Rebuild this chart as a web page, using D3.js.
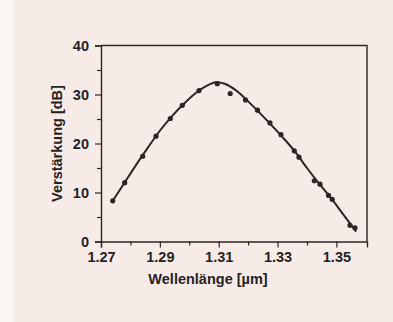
<!DOCTYPE html>
<html>
<head>
<meta charset="utf-8">
<script src="https://cdn.jsdelivr.net/npm/d3@7"></script>
<style>
  html, body { margin: 0; padding: 0; background: #f7ebe8; }
  svg { display: block; }
  text { font-family: "Liberation Sans", Arial, Helvetica, sans-serif; font-weight: bold; fill: #262222; }
</style>
</head>
<body>
<script>
// measured points
const measWavelength = [1.27398, 1.27805, 1.28417, 1.28869, 1.29355, 1.29763, 1.30331, 1.30952, 1.31391, 1.31911, 1.32319,
  1.32743, 1.33117, 1.33569, 1.33729, 1.34249, 1.34443, 1.34732, 1.34857, 1.35462, 1.35632];
const measGain = [8.3, 12.0, 17.4, 21.5, 25.1, 27.8, 30.8, 32.2, 30.2, 28.9, 26.8,
  24.2, 21.8, 18.5, 17.2, 12.4, 11.7, 9.4, 8.6, 3.3, 2.8];

// fitted curve
const fitWavelength = [1.2738, 1.278, 1.282, 1.286, 1.290, 1.294, 1.298, 1.302, 1.306, 1.309, 1.312,
  1.316, 1.320, 1.324, 1.328, 1.332, 1.336, 1.340, 1.344, 1.348, 1.352, 1.3567];
const fitGain = [8.1, 12.0, 15.7, 19.2, 22.6, 25.5, 28.0, 30.2, 31.8, 32.5, 32.2,
  30.8, 28.6, 26.2, 23.7, 21.1, 18.3, 15.0, 11.9, 9.0, 5.8, 2.0];

const xMajor = [1.27, 1.29, 1.31, 1.33, 1.35];
const xMinor = [1.28, 1.30, 1.32, 1.34];
const yMajor = [0, 10, 20, 30, 40];
const yMinor = [5, 15, 25, 35];

const width = 393, height = 322;
const margin = { left: 101, right: 26, top: 45.5, bottom: 80.5 };

const svg = d3.select("body").append("svg")
  .attr("width", width)
  .attr("height", height);

// light strip on the left edge of the scan
svg.append("rect").attr("x", 0).attr("y", 0).attr("width", 14).attr("height", height).attr("fill", "#fbf5f4");

const x = d3.scaleLinear().domain([1.27, 1.3604]).range([margin.left, width - margin.right]);
const y = d3.scaleLinear().domain([0, 40]).range([height - margin.bottom, margin.top]);

const ink = "#2a2626";

// frame (top + right)
svg.append("path")
  .attr("d", `M${x.range()[0]},${y(40)}H${x.range()[1]}V${y(0)}`)
  .attr("fill", "none")
  .attr("stroke", ink)
  .attr("stroke-width", 1.4);

// y axis
const gy = svg.append("g").attr("transform", `translate(${margin.left},0)`)
  .call(d3.axisLeft(y).tickValues(yMajor).tickSize(6).tickPadding(6).tickFormat(d3.format("d")));
svg.append("g").attr("transform", `translate(${margin.left},0)`)
  .call(d3.axisLeft(y).tickValues(yMinor).tickSize(4).tickFormat(""))
  .call(g => g.select(".domain").remove());

// x axis
const gx = svg.append("g").attr("transform", `translate(0,${y(0)})`)
  .call(d3.axisBottom(x).tickValues(xMajor).tickSize(6).tickPadding(4).tickFormat(d3.format(".2f")));
svg.append("g").attr("transform", `translate(0,${y(0)})`)
  .call(d3.axisBottom(x).tickValues(xMinor).tickSize(4).tickFormat(""))
  .call(g => g.select(".domain").remove());

svg.selectAll(".domain").attr("stroke", ink).attr("stroke-width", 1.4);
svg.selectAll(".tick line").attr("stroke", ink).attr("stroke-width", 1.2);
svg.selectAll(".tick text")
  .attr("font-family", "'Liberation Sans', Arial, Helvetica, sans-serif")
  .attr("font-weight", "bold")
  .attr("font-size", 14.5)
  .attr("fill", "#262222");

// axis titles
svg.append("text")
  .attr("x", 208)
  .attr("y", 284)
  .attr("text-anchor", "middle")
  .attr("font-size", 14.5)
  .text("Wellenlänge [µm]");

svg.append("text")
  .attr("transform", `translate(62,${(y(0) + y(40)) / 2}) rotate(-90)`)
  .attr("text-anchor", "middle")
  .attr("font-size", 14.5)
  .text("Verstärkung [dB]");

// fit curve
const fit = fitWavelength.map((w, i) => [w, fitGain[i]]);
svg.append("path")
  .datum(fit)
  .attr("fill", "none")
  .attr("stroke", ink)
  .attr("stroke-width", 2)
  .attr("d", d3.line().x(d => x(d[0])).y(d => y(d[1])).curve(d3.curveCatmullRom));

// measured points
const meas = measWavelength.map((w, i) => [w, measGain[i]]);
svg.append("g").selectAll("circle")
  .data(meas)
  .join("circle")
  .attr("cx", d => x(d[0]))
  .attr("cy", d => y(d[1]))
  .attr("r", 2.6)
  .attr("fill", ink);
</script>
</body>
</html>
